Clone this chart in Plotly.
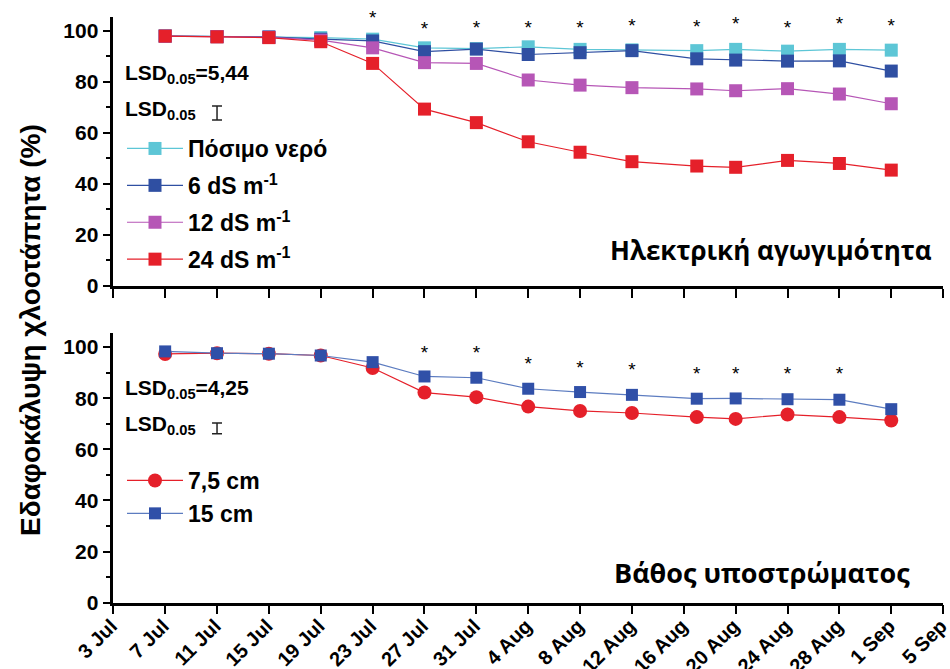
import plotly.graph_objects as go

dates = ["2013-07-07", "2013-07-11", "2013-07-15", "2013-07-19", "2013-07-23",
         "2013-07-27", "2013-07-31", "2013-08-04", "2013-08-08", "2013-08-12",
         "2013-08-17", "2013-08-20", "2013-08-24", "2013-08-28", "2013-09-01"]

# Top panel: electrical conductivity
potable = [98.0, 97.7, 97.4, 97.3, 96.7, 93.3, 93.0, 93.7, 92.7, 92.5, 92.2, 92.7, 92.0, 92.7, 92.4]
ec6 = [97.9, 97.7, 97.6, 96.7, 96.0, 91.8, 92.8, 90.7, 91.4, 92.2, 89.0, 88.5, 88.1, 88.2, 84.2]
ec12 = [97.9, 97.7, 97.4, 96.3, 93.3, 87.5, 87.2, 80.7, 78.7, 77.7, 77.2, 76.5, 77.3, 75.2, 71.4]
ec24 = [97.9, 97.6, 97.3, 95.7, 87.2, 69.3, 64.0, 56.5, 52.4, 48.7, 47.0, 46.5, 49.2, 48.0, 45.4]

# Bottom panel: substrate depth
d75 = [97.3, 97.6, 97.4, 96.7, 91.8, 82.2, 80.4, 76.7, 75.0, 74.2, 72.6, 71.9, 73.6, 72.6, 71.3]
d15 = [98.3, 97.6, 97.4, 96.7, 94.1, 88.5, 88.0, 83.7, 82.4, 81.3, 79.8, 79.9, 79.6, 79.4, 75.7]

# significance markers
star_top_dates = ["2013-07-23", "2013-07-27", "2013-07-31", "2013-08-04", "2013-08-08", "2013-08-12",
                  "2013-08-17", "2013-08-20", "2013-08-24", "2013-08-28", "2013-09-01"]
star_top_y = [104.5, 100.0, 100.6, 100.4, 100.4, 101.2, 100.8, 102.0, 100.4, 102.0, 101.2]
star_bot_dates = ["2013-07-27", "2013-07-31", "2013-08-04", "2013-08-08", "2013-08-12",
                  "2013-08-17", "2013-08-20", "2013-08-24", "2013-08-28"]
star_bot_y = [97.0, 97.0, 93.0, 91.5, 90.7, 89.0, 89.0, 89.0, 89.0]

lsd_top = 5.44
lsd_bot = 4.25
lsd_bar_date = "2013-07-11"
lsd_bar_top_y = 67.8
lsd_bar_bot_y = 68.2

tick_start = "2013-07-03"
x_range = ["2013-07-03", "2013-09-05 00:20"]
y_range = [0, 105.5]

CYAN = "#5DC6D6"
BLUE = "#2F4FA2"
MAG = "#B656B6"
RED = "#E5202A"
FONT = "Liberation Sans"

fig = go.Figure()

def add_series(y, name, color, symbol, xa, ya, legend, size=13, linecolor=None):
    fig.add_trace(go.Scatter(
        x=dates, y=y, name=name, mode="lines+markers", legendgroup=name,
        line=dict(color=linecolor or color, width=1.2),
        marker=dict(symbol=symbol, size=size, color=color),
        xaxis=xa, yaxis=ya, legend=legend, cliponaxis=False))

add_series(potable, "Πόσιμο νερό", CYAN, "square", "x2", "y2", "legend")
add_series(ec6, "6 dS m<sup>-1</sup>", BLUE, "square", "x2", "y2", "legend")
add_series(ec12, "12 dS m<sup>-1</sup>", MAG, "square", "x2", "y2", "legend")
add_series(ec24, "24 dS m<sup>-1</sup>", RED, "square", "x2", "y2", "legend")

add_series(d75, "7,5 cm", RED, "circle", "x", "y", "legend2", size=14)
add_series(d15, "15 cm", "#3050A8", "square", "x", "y", "legend2", size=12, linecolor="#5C7CC0")

fig.add_trace(go.Scatter(x=star_top_dates, y=star_top_y, mode="text", text=["*"] * len(star_top_dates),
                         textfont=dict(family=FONT, size=19, color="black"),
                         xaxis="x2", yaxis="y2", showlegend=False, cliponaxis=False))
fig.add_trace(go.Scatter(x=star_bot_dates, y=star_bot_y, mode="text", text=["*"] * len(star_bot_dates),
                         textfont=dict(family=FONT, size=19, color="black"),
                         xaxis="x", yaxis="y", showlegend=False, cliponaxis=False))

# LSD bars
fig.add_trace(go.Scatter(x=[lsd_bar_date], y=[lsd_bar_top_y], mode="markers",
                         marker=dict(size=1, color="rgba(0,0,0,0)"),
                         error_y=dict(type="data", array=[lsd_top / 2], color="#222", thickness=1.5, width=5),
                         xaxis="x2", yaxis="y2", showlegend=False))
fig.add_trace(go.Scatter(x=[lsd_bar_date], y=[lsd_bar_bot_y], mode="markers",
                         marker=dict(size=1, color="rgba(0,0,0,0)"),
                         error_y=dict(type="data", array=[lsd_bot / 2], color="#222", thickness=1.5, width=5),
                         xaxis="x", yaxis="y", showlegend=False))

xdom = [113.3 / 950, 943.3 / 950]
common_x = dict(type="date", range=x_range, tick0=tick_start, dtick=4 * 86400000,
                showline=True, linecolor="black", linewidth=2.5, ticks="outside",
                ticklen=9, tickwidth=2, tickcolor="black", showgrid=False, zeroline=False,
                domain=xdom, automargin=False)
common_y = dict(range=y_range, dtick=20, showline=True, linecolor="black", linewidth=2.5,
                ticks="outside", ticklen=8, tickwidth=2, tickcolor="black", showgrid=False,
                zeroline=False, tickfont=dict(family=FONT, size=21, color="black", weight="bold"),
                minor=dict(dtick=10, ticks="outside", ticklen=5, tickwidth=1.5, tickcolor="black"),
                automargin=False)

legend_font = dict(family=FONT, size=23, color="black", weight="bold")
fig.update_layout(
    width=950, height=669, margin=dict(l=0, r=0, t=0, b=0),
    plot_bgcolor="white", paper_bgcolor="white",
    xaxis=dict(**common_x, anchor="y", tickformat="%-d %b", tickangle=-45,
               ticklabeloverflow="allow", ticklabelstandoff=-8, ticklabelshift=-2,
               tickfont=dict(family=FONT, size=20, color="black", weight="bold")),
    xaxis2=dict(**common_x, anchor="y2", showticklabels=False, matches="x"),
    yaxis=dict(**common_y, anchor="x", domain=[1 - 602.7 / 669, 1 - 333 / 669]),
    yaxis2=dict(**common_y, anchor="x2", domain=[1 - 286 / 669, 1 - 16.7 / 669]),
    legend=dict(x=122 / 950, y=1 - 127 / 669, xanchor="left", yanchor="top",
                font=legend_font, itemwidth=56,
                bgcolor="rgba(0,0,0,0)", tracegroupgap=4, traceorder="grouped"),
    legend2=dict(x=122 / 950, y=1 - 459 / 669, xanchor="left", yanchor="top",
                 font=legend_font, itemwidth=56,
                 bgcolor="rgba(0,0,0,0)", tracegroupgap=0, traceorder="grouped"),
    showlegend=True,
)

ann_font = dict(family=FONT, size=21, color="black", weight="bold")
annotations = [
    dict(text="LSD<sub>0.05</sub>=5,44", x=123 / 950, y=1 - 74 / 669),
    dict(text="LSD<sub>0.05</sub>", x=123 / 950, y=1 - 110 / 669),
    dict(text="LSD<sub>0.05</sub>=4,25", x=123 / 950, y=1 - 389 / 669),
    dict(text="LSD<sub>0.05</sub>", x=123 / 950, y=1 - 425 / 669),
]
for a in annotations:
    fig.add_annotation(xref="paper", yref="paper", xanchor="left", yanchor="middle",
                       showarrow=False, font=ann_font, **a)

fig.add_annotation(text="Ηλεκτρική αγωγιμότητα", xref="paper", yref="paper",
                   x=934 / 950, y=1 - 250 / 669, xanchor="right", yanchor="middle",
                   showarrow=False, font=dict(family="Open Sans", size=26, color="black", weight="bold"))
fig.add_annotation(text="Βάθος υποστρώματος", xref="paper", yref="paper",
                   x=912 / 950, y=1 - 572 / 669, xanchor="right", yanchor="middle",
                   showarrow=False, font=dict(family="Open Sans", size=27, color="black", weight="bold"))
fig.add_annotation(text="Εδαφοκάλυψη χλοοτάπητα (%)", xref="paper", yref="paper",
                   x=30 / 950, y=1 - 330 / 669, xanchor="center", yanchor="middle", textangle=-90,
                   showarrow=False, font=dict(family=FONT, size=28, color="black", weight="bold"))

fig.write_html("out.html")
